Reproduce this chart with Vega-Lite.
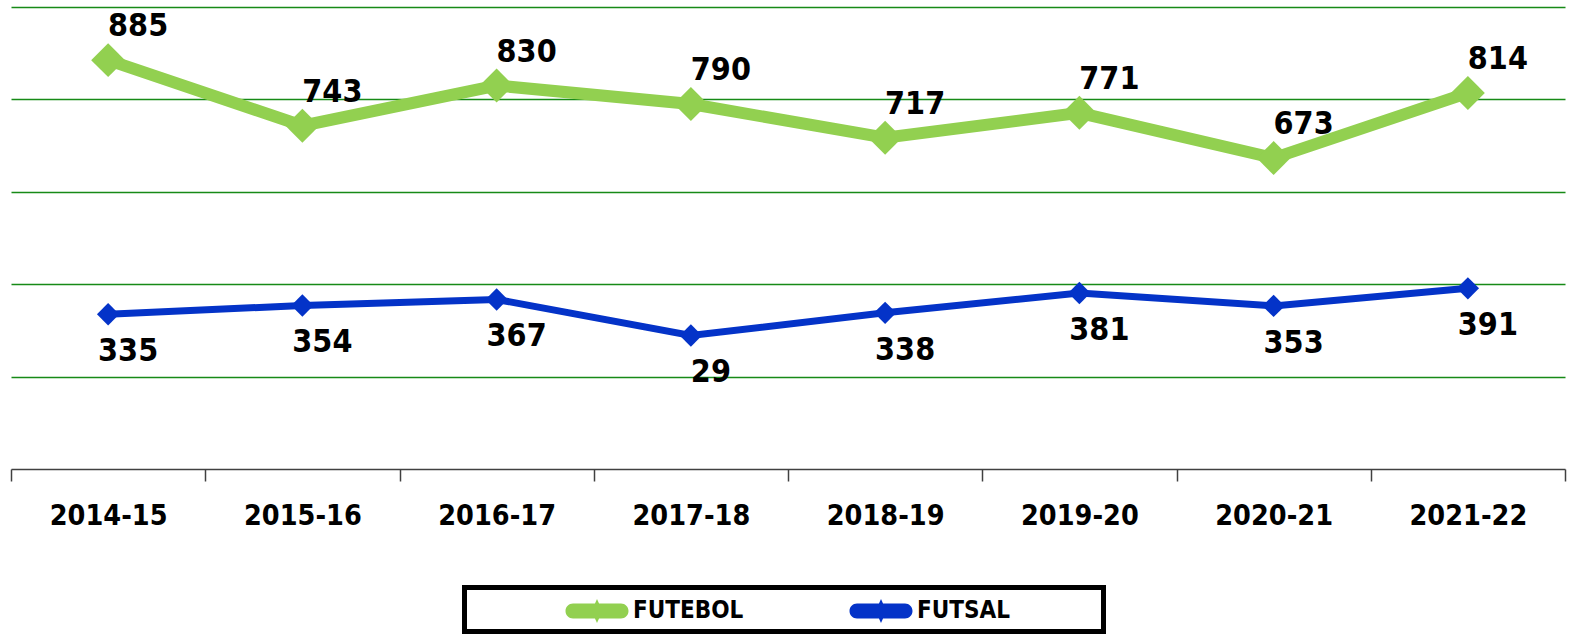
{
  "$schema": "https://vega.github.io/schema/vega-lite/v6.json",
  "width": 1554,
  "height": 462,
  "autosize": {"type": "none"},
  "padding": {"left": 11, "top": 7, "right": 10, "bottom": 171},
  "background": "white",
  "config": {"view": {"stroke": null}, "font": "DejaVu Sans Condensed, DejaVu Sans, sans-serif"},
  "data": {
    "values": [
      {"season": "2014-15", "series": "FUTEBOL", "value": 885, "label": "885"},
      {"season": "2015-16", "series": "FUTEBOL", "value": 743, "label": "743"},
      {"season": "2016-17", "series": "FUTEBOL", "value": 830, "label": "830"},
      {"season": "2017-18", "series": "FUTEBOL", "value": 790, "label": "790"},
      {"season": "2018-19", "series": "FUTEBOL", "value": 717, "label": "717"},
      {"season": "2019-20", "series": "FUTEBOL", "value": 771, "label": "771"},
      {"season": "2020-21", "series": "FUTEBOL", "value": 673, "label": "673"},
      {"season": "2021-22", "series": "FUTEBOL", "value": 814, "label": "814"},
      {"season": "2014-15", "series": "FUTSAL", "value": 335, "label": "335"},
      {"season": "2015-16", "series": "FUTSAL", "value": 354, "label": "354"},
      {"season": "2016-17", "series": "FUTSAL", "value": 367, "label": "367"},
      {"season": "2017-18", "series": "FUTSAL", "value": 289, "label": "29"},
      {"season": "2018-19", "series": "FUTSAL", "value": 338, "label": "338"},
      {"season": "2019-20", "series": "FUTSAL", "value": 381, "label": "381"},
      {"season": "2020-21", "series": "FUTSAL", "value": 353, "label": "353"},
      {"season": "2021-22", "series": "FUTSAL", "value": 391, "label": "391"}
    ]
  },
  "encoding": {
    "x": {
      "field": "season",
      "type": "nominal",
      "sort": null,
      "bandPosition": 0.5,
      "scale": {"type": "band", "paddingInner": 0, "paddingOuter": 0},
      "axis": {
        "title": null,
        "labelAngle": 0,
        "tickBand": "extent",
        "domainColor": "#404040",
        "domainWidth": 1.5,
        "tickColor": "#404040",
        "tickWidth": 1.5,
        "tickSize": 12,
        "labelFont": "DejaVu Sans Condensed, DejaVu Sans, sans-serif",
        "labelFontSize": 28.5,
        "labelFontWeight": "bold",
        "labelColor": "black",
        "labelPadding": 20,
        "grid": false
      }
    },
    "y": {
      "field": "value",
      "type": "quantitative",
      "scale": {"domain": [0, 1000]},
      "axis": {
        "title": null,
        "values": [200, 400, 600, 800, 1000],
        "labels": false,
        "ticks": false,
        "domain": false,
        "grid": true,
        "gridColor": "#178A17",
        "gridWidth": 1.5
      }
    },
    "color": {
      "field": "series",
      "type": "nominal",
      "scale": {"domain": ["FUTEBOL", "FUTSAL"], "range": ["#92D050", "#0433C8"]},
      "legend": {
        "orient": "none",
        "legendX": 453.5,
        "legendY": 580.5,
        "direction": "horizontal",
        "title": "\u2800\u2800\u2800\u2800\u2800\u2800",
        "titleOrient": "left",
        "titleFont": "DejaVu Sans",
        "titleFontSize": 20,
        "titlePadding": 0,
        "strokeColor": "black",
        "padding": 8.5,
        "symbolType": "M-0.6,-0.5L2.6,-0.5A0.5,0.5 0 0 1 2.6,0.5L-0.6,0.5A0.5,0.5 0 0 1 -0.6,-0.5Z M1,-0.8L1.36,0L1,0.8L0.64,0Z",
        "symbolSize": 900,
        "symbolStrokeWidth": 0,
        "symbolOpacity": 1,
        "labelOffset": 36,
        "labelFont": "DejaVu Sans Condensed, DejaVu Sans, sans-serif",
        "labelFontSize": 24,
        "labelFontWeight": "bold",
        "labelColor": "black",
        "labelLimit": 400,
        "columnPadding": 105,
        "labelExpr": "datum.label == 'FUTSAL' ? datum.label + '\u2800\u2800\u2800\u2800\u2800' : datum.label",
        "encode": {
          "legend": {"update": {"strokeWidth": {"value": 5}}},
          "symbols": {"update": {"fill": {"scale": "color", "field": "value"}, "opacity": {"value": 1}, "size": {"value": 900}}}
        }
      }
    }
  },
  "layer": [
    {
      "transform": [{"filter": "datum.series == 'FUTEBOL'"}],
      "mark": {"type": "line", "strokeJoin": "miter", "strokeWidth": 12}
    },
    {
      "transform": [{"filter": "datum.series == 'FUTSAL'"}],
      "mark": {"type": "line", "strokeJoin": "miter", "strokeWidth": 7}
    },
    {
      "transform": [{"filter": "datum.series == 'FUTEBOL'"}],
      "mark": {"type": "point", "shape": "diamond", "filled": true, "opacity": 1, "size": 1150}
    },
    {
      "transform": [{"filter": "datum.series == 'FUTSAL'"}],
      "mark": {"type": "point", "shape": "diamond", "filled": true, "opacity": 1, "size": 500}
    },
    {
      "transform": [{"filter": "datum.series == 'FUTEBOL'"}],
      "mark": {"type": "text", "dx": 30, "dy": -34, "fontSize": 32, "fontWeight": "bold", "font": "DejaVu Sans Condensed, DejaVu Sans, sans-serif"},
      "encoding": {"text": {"field": "label"}, "color": {"value": "black"}}
    },
    {
      "transform": [{"filter": "datum.series == 'FUTSAL'"}],
      "mark": {"type": "text", "dx": 20, "dy": 37, "fontSize": 32, "fontWeight": "bold", "font": "DejaVu Sans Condensed, DejaVu Sans, sans-serif"},
      "encoding": {"text": {"field": "label"}, "color": {"value": "black"}}
    }
  ]
}
